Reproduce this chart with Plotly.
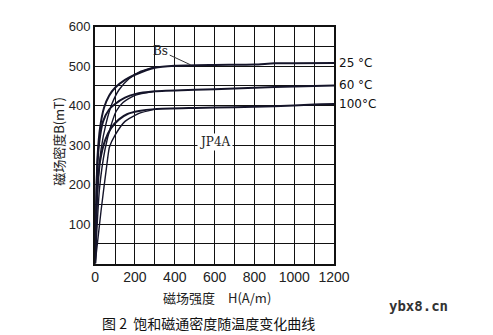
import plotly.graph_objects as go

# Data
h25_a = [0, 5, 12, 25, 45, 70, 100, 150, 200, 300, 400, 600, 800, 900, 1000, 1200]
b25_a = [0, 150, 270, 345, 395, 425, 445, 465, 478, 496, 501, 503, 504, 507, 507, 508]
h25_b = [0, 12, 30, 55, 85, 120, 170, 230, 300]
b25_b = [0, 190, 290, 355, 405, 440, 468, 487, 498]

h60_a = [0, 8, 20, 40, 70, 100, 150, 200, 300, 500, 700, 900, 1200]
b60_a = [0, 210, 305, 360, 390, 404, 420, 429, 436, 440, 443, 447, 451]
h60_b = [0, 22, 50, 80, 105, 140, 200, 300]
b60_b = [0, 190, 290, 350, 385, 408, 426, 436]

h100_a = [0, 10, 25, 50, 80, 120, 160, 220, 300, 500, 700, 900, 1100, 1200]
b100_a = [0, 170, 260, 312, 343, 365, 378, 386, 391, 394, 396, 398, 403, 404]
h100_b = [0, 30, 60, 72, 100, 150, 220, 300]
b100_b = [0, 135, 255, 295, 325, 360, 380, 391]

x_ticks = [0, 200, 400, 600, 800, 1000, 1200]
y_ticks = [100, 200, 300, 400, 500, 600]
temp_labels = ["25 °C", "60 °C", "100°C"]

fig = go.Figure()
curves = [(h25_a, b25_a, 2), (h25_b, b25_b, 1.4), (h60_a, b60_a, 2), (h60_b, b60_b, 1.4),
          (h100_a, b100_a, 2), (h100_b, b100_b, 1.4)]
for hx, by, w in curves:
    fig.add_trace(go.Scatter(x=hx, y=by, mode="lines", line=dict(color="#15152a", width=w, shape="spline", smoothing=0.6),
                             showlegend=False, hoverinfo="skip"))

font = dict(family="Liberation Sans", size=14, color="#222")
axis_common = dict(showgrid=True, gridcolor="#111", gridwidth=1.4, showline=True, linecolor="#111", linewidth=2,
                   mirror=True, zeroline=False, ticks="", tickfont=font)
fig.update_xaxes(range=[0, 1200], tickvals=x_ticks, ticktext=[str(v) for v in x_ticks],
                 minor=dict(dtick=100, showgrid=True, gridcolor="#111", gridwidth=1.4),
                 domain=[95 / 493, 344 / 493], **axis_common)
fig.update_yaxes(range=[0, 600], tickvals=y_ticks, ticktext=[str(v) for v in y_ticks],
                 minor=dict(dtick=50, showgrid=True, gridcolor="#111", gridwidth=1.4),
                 domain=[1 - 262 / 335, 1 - 20 / 335], ticklabelstandoff=0, **axis_common)
fig.update_yaxes(tickfont=dict(family="Liberation Sans", size=13, color="#222"))

ann = []
# temperature labels at right end
for lab, yv in zip(temp_labels, [b25_a[-1], b60_a[-1], b100_a[-1]]):
    ann.append(dict(x=1200, y=yv, xref="x", yref="y", text=lab, showarrow=False, xanchor="left",
                    xshift=3, font=dict(family="DejaVu Sans", size=12, color="#111")))
ann.append(dict(x=480, y=503, xref="x", yref="y", text="Bs", showarrow=True, arrowhead=0, arrowwidth=1,
                arrowcolor="#333", ax=-30, ay=-14, font=dict(family="DejaVu Serif", size=12, color="#222")))
ann.append(dict(x=600, y=307, xref="x", yref="y", text="JP4A", showarrow=False, bgcolor="white",
                font=dict(family="DejaVu Serif", size=12, color="#222")))
ann.append(dict(x=56 / 493, y=1 - 137 / 335, xref="paper", yref="paper", text="磁场密度B(mT)", textangle=-90,
                xanchor="center", yanchor="middle",
                showarrow=False, font=dict(family="Noto Sans CJK SC", size=13, color="#222")))
ann.append(dict(x=222 / 493, y=1 - 297 / 335, xref="paper", yref="paper", text="磁场强度　H(A/m)",
                xanchor="center", yanchor="middle",
                showarrow=False, font=dict(family="Noto Sans CJK SC", size=13, color="#222")))
ann.append(dict(x=213 / 493, y=1 - 323 / 335, xref="paper", yref="paper", text="图 2  饱和磁通密度随温度变化曲线",
                xanchor="center", yanchor="middle",
                showarrow=False, font=dict(family="Noto Sans CJK SC", size=14, color="#111")))
ann.append(dict(x=432 / 493, y=1 - 305 / 335, xref="paper", yref="paper", text="<b>ybx8.cn</b>",
                xanchor="center", yanchor="middle",
                showarrow=False, font=dict(family="DejaVu Sans Mono", size=14, color="#333")))

fig.update_layout(width=493, height=335, margin=dict(l=0, r=0, t=0, b=0), paper_bgcolor="white",
                  plot_bgcolor="white", annotations=ann, showlegend=False)
fig.write_html("out.html")
